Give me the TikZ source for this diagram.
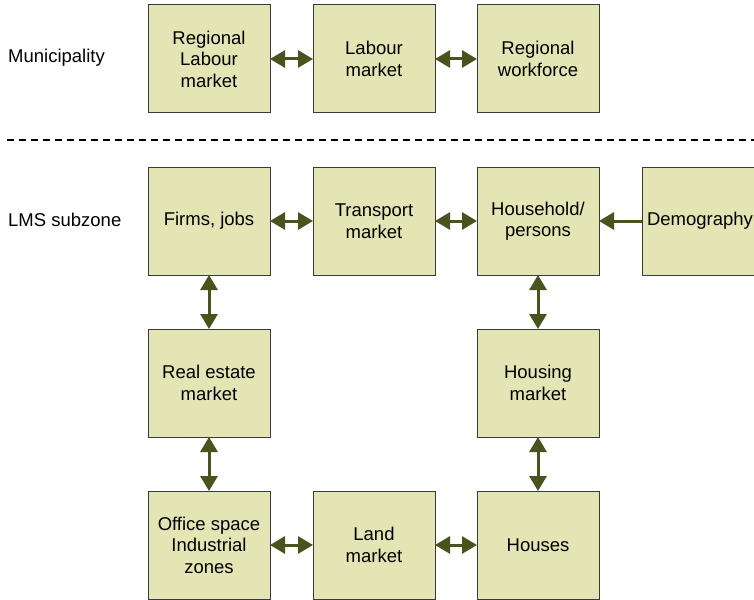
\documentclass[tikz,border=0pt]{standalone}
\usepackage{fontspec}
\setmainfont{Liberation Sans}
\usetikzlibrary{arrows.meta}
\definecolor{boxfill}{HTML}{E3E5B5}
\definecolor{boxline}{HTML}{3A3A3A}
\definecolor{olive}{HTML}{4A521E}
\tikzstyle{block}=[rectangle,fill=boxfill,draw=boxline,line width=1pt,minimum width=122pt,minimum height=108pt,inner sep=0pt,align=center,font=\fontsize{18.5}{21.5}\selectfont]
\tikzstyle{zonelabel}=[anchor=west,inner sep=0pt,font=\fontsize{18.5}{21.5}\selectfont]
\tikzstyle{link}=[line width=3pt,draw=olive,{Triangle[length=15pt,width=17pt,fill=olive]}-{Triangle[length=15pt,width=17pt,fill=olive]},shorten <=-0.5pt,shorten >=-0.5pt]
\tikzstyle{onelink}=[line width=3pt,draw=olive,-{Triangle[length=15pt,width=17pt,fill=olive]},shorten >=-0.5pt]

\begin{document}
\begin{tikzpicture}[x=1pt,y=-1pt]

    \useasboundingbox (0,0) rectangle (754,599);
    \clip (0,0) rectangle (754,599);

    \node[zonelabel] (muni) at (8,58) {Municipality};
    \node[zonelabel] (lms) at (8,220) {LMS subzone};

    \draw[dashed, line width=1.3pt, dash pattern=on 7pt off 5pt] (7,140) -- (754,140);

    \foreach \pos/\name/\label in {{(209,59)/reglab/{Regional\\Labour\\market}}, {(374,59)/labour/{Labour\\market}}, {(538,59)/regwork/{Regional\\workforce}}}
        \node[block] (\name) at \pos {\label};

    \foreach \pos/\name/\label in {{(209,221)/firms/{Firms, jobs}}, {(374,221)/transport/{Transport\\market}}, {(538,221)/household/{Household/\\persons}}, {(703,221)/demo/{\hspace*{-6pt}Demography}}}
        \node[block] (\name) at \pos {\label};

    \foreach \pos/\name/\label in {{(209,383)/realestate/{Real estate\\market}}, {(538,383)/housing/{Housing\\market}}}
        \node[block] (\name) at \pos {\label};

    \foreach \pos/\name/\label in {{(209,545)/office/{Office space\\Industrial\\zones}}, {(374,545)/land/{Land\\market}}, {(538,545)/houses/{Houses}}}
        \node[block] (\name) at \pos {\label};

       \draw[link] (reglab) to (labour);
       \draw[link] (labour) to (regwork);

       \draw[link] (firms) to (transport);
       \draw[link] (transport) to (household);
       \draw[onelink] (demo) to (household);

       \draw[link] (firms) to (realestate);
       \draw[link] (realestate) to (office);
       \draw[link] (household) to (housing);
       \draw[link] (housing) to (houses);

       \draw[link] (office) to (land);
       \draw[link] (land) to (houses);

   \end{tikzpicture}
\end{document}
